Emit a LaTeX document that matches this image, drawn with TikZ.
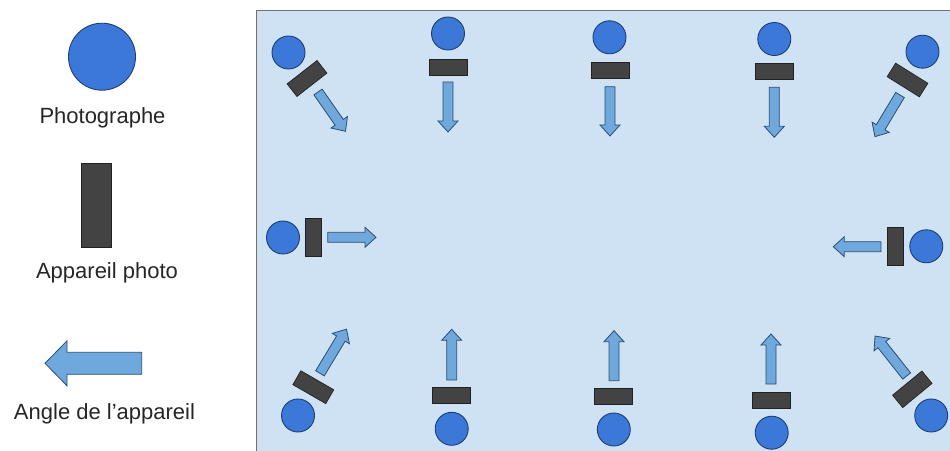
\documentclass[tikz,border=0pt]{standalone}
\usepackage{fontspec}
\setmainfont{Liberation Sans}
\usetikzlibrary{shapes.geometric}
\definecolor{panelfill}{HTML}{CFE2F3}
\definecolor{panelline}{HTML}{707070}
\definecolor{persfill}{HTML}{3C78D8}
\definecolor{persline}{HTML}{1C3F73}
\definecolor{camfill}{HTML}{434343}
\definecolor{camline}{HTML}{222222}
\definecolor{arrfill}{HTML}{6FA8DC}
\definecolor{arrline}{HTML}{2E4D70}
\tikzset{
  person/.style={circle, draw=persline, fill=persfill, line width=0.9pt, minimum size=33pt, inner sep=0pt},
  camera/.style={rectangle, draw=camline, fill=camfill, line width=0.7pt, minimum width=38pt, minimum height=16pt, inner sep=0pt},
  arrowshape/.style={draw=arrline, fill=arrfill, line width=0.8pt, line join=miter},
  legendtext/.style={font=\fontsize{22}{26}\selectfont, text=black!85, anchor=base, inner sep=0pt},
  pics/camarrow/.style={code={
    \path[arrowshape] (0,-5) -- (#1-11,-5) -- (#1-11,-10) -- (#1,0) -- (#1-11,10) -- (#1-11,5) -- (0,5) -- cycle;
  }},
  pics/bigarrow/.style={code={
    \path[arrowshape] (0,-11) -- (#1-22,-11) -- (#1-22,-22.5) -- (#1,0) -- (#1-22,22.5) -- (#1-22,11) -- (0,11) -- cycle;
  }}
}
\begin{document}
\begin{tikzpicture}[x=1pt,y=1pt]
\useasboundingbox (0,0) rectangle (950,450);
\begin{scope}
\clip (0,0) rectangle (950,450);
\node[draw=panelline, fill=panelfill, line width=1pt, rectangle, anchor=north west, minimum width=720pt, minimum height=470pt, inner sep=0pt] (panel) at (256,440) {};
\end{scope}

% legend
\node[person, minimum size=67pt] (lgperson) at (102,393.3) {};
\node[legendtext] (lgpersontext) at (102.5,326) {Photographe};
\node[camera, minimum width=30pt, minimum height=84pt] (lgcamera) at (96,245) {};
\node[legendtext] (lgcameratext) at (107,171) {Appareil photo};
\pic (lgarrow) at (141.7,86.7) [rotate=180] {bigarrow=96.7};
\node[legendtext] (lgarrowtext) at (104.5,31) {Angle de l’appareil};

% top row
\node[person] (p1) at (288.5,397.5) {};
\node[camera, rotate=38] (c1) at (307,371.5) {};
\pic (a1) at (318,358) [rotate=-55] {camarrow=48};

\node[person] (p2) at (448,416.5) {};
\node[camera] (c2) at (448,383) {};
\pic (a2) at (448,368) [rotate=-90] {camarrow=50};

\node[person] (p3) at (609.5,412.7) {};
\node[camera] (c3) at (610,379.3) {};
\pic (a3) at (610,363.3) [rotate=-90] {camarrow=49.3};

\node[person] (p4) at (774.3,411) {};
\node[camera] (c4) at (774.5,378.3) {};
\pic (a4) at (774.3,362.7) [rotate=-90] {camarrow=50};

\node[person] (p5) at (922.5,398.3) {};
\node[camera, rotate=-32] (c5) at (907.5,370) {};
\pic (a5) at (900,355) [rotate=-121] {camarrow=48.6};

% middle row
\node[person] (p6) at (283,212.5) {};
\node[camera, rotate=90] (c6) at (313.3,212.5) {};
\pic (a6) at (327.7,212.7) {camarrow=48.3};

\node[person] (p7) at (926.3,203.7) {};
\node[camera, rotate=90] (c7) at (895.8,203.5) {};
\pic (a7) at (881,203.3) [rotate=180] {camarrow=47.7};

% bottom row
\node[person] (p8) at (298,34.5) {};
\node[camera, rotate=-30] (c8) at (313.3,62.8) {};
\pic (a8) at (320,76.7) [rotate=59] {camarrow=51.5};

\node[person] (p9) at (451.7,21.2) {};
\node[camera] (c9) at (451.7,54.7) {};
\pic (a9) at (451.7,70) [rotate=90] {camarrow=50.7};

\node[person] (p10) at (613.8,20.5) {};
\node[camera] (c10) at (613.8,53.3) {};
\pic (a10) at (614,69.3) [rotate=90] {camarrow=50};

\node[person] (p11) at (771.7,17.3) {};
\node[camera] (c11) at (771.7,49.5) {};
\pic (a11) at (771,66) [rotate=90] {camarrow=50};

\node[person] (p12) at (931.2,34.5) {};
\node[camera, rotate=39.5] (c12) at (912.3,60.7) {};
\pic (a12) at (906.7,74) [rotate=128.4] {camarrow=51};
\end{tikzpicture}
\end{document}
